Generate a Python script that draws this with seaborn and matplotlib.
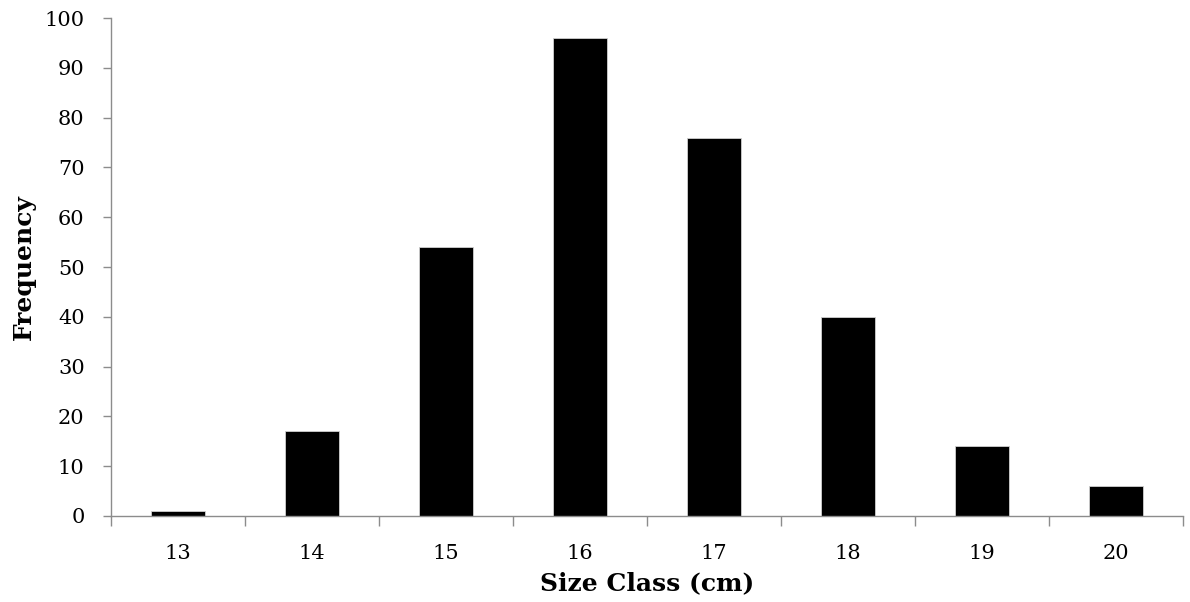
import pandas as pd
import matplotlib.pyplot as plt
import seaborn as sns
from matplotlib.ticker import FixedLocator

# dados do histograma
size_class = ['13', '14', '15', '16', '17', '18', '19', '20']
frequency = [1, 17, 54, 96, 76, 40, 14, 6]

df = pd.DataFrame({'Size Class': size_class, 'Frequency': frequency})

sns.set_style('white')
plt.rcParams['font.family'] = ['DejaVu Serif']

fig = plt.figure(figsize=(11.9, 6.02), dpi=100)
ax = fig.add_axes([0.0933, 0.1429, 0.9007, 0.8271])

sns.barplot(data=df, x='Size Class', y='Frequency', color='black',
            width=0.4, edgecolor='#d0d0d0', linewidth=0.6, ax=ax, saturation=1)

ax.set_xlim(-0.5, len(size_class) - 0.5)
ax.set_ylim(0, 100)
ax.set_yticks(range(0, 101, 10))

# marcas do eixo x nas fronteiras das classes
ax.xaxis.set_minor_locator(FixedLocator([i - 0.5 for i in range(len(size_class) + 1)]))
ax.tick_params(axis='x', which='major', bottom=True, length=0, pad=20, labelsize=15, labelcolor='black')
ax.tick_params(axis='x', which='minor', bottom=True, length=7, width=1, color='#8c8c8c', direction='out')
ax.tick_params(axis='y', left=True, length=6, width=1, color='#8c8c8c', direction='out',
               labelsize=15, pad=13, labelcolor='black')

for s in ['top', 'right']:
    ax.spines[s].set_visible(False)
for s in ['left', 'bottom']:
    ax.spines[s].set_color('#8c8c8c')
    ax.spines[s].set_linewidth(1)

ax.set_xlabel('Size Class (cm)', fontsize=18, fontweight='bold', labelpad=6, color='black')
ax.set_ylabel('Frequency', fontsize=18, fontweight='bold', labelpad=6, color='black')

fig.savefig('out.png', dpi=100)
